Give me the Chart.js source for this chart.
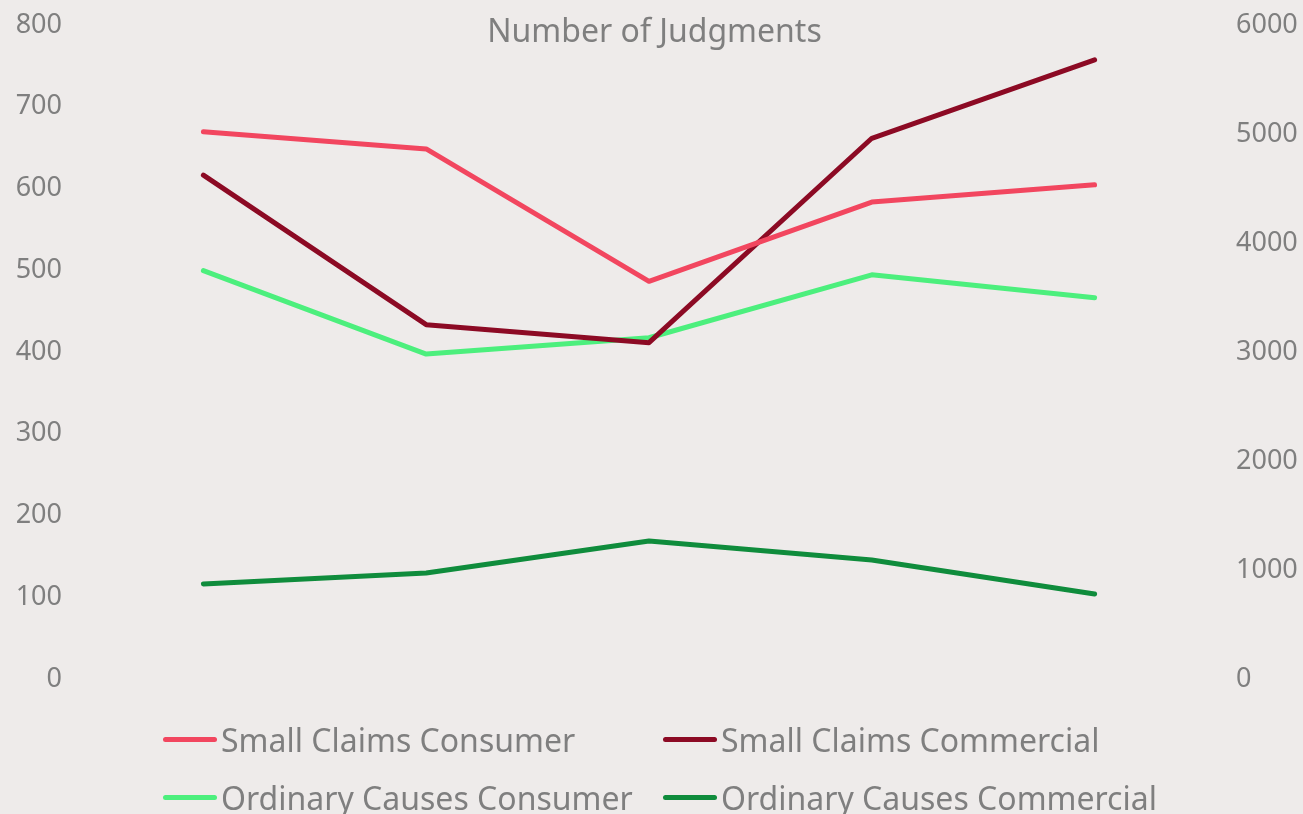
<!DOCTYPE html>
<html>
<head>
<meta charset="utf-8">
<script src="https://cdn.jsdelivr.net/npm/chart.js@4.4.0/dist/chart.umd.min.js"></script>
<style>
  html, body { margin: 0; padding: 0; background: #EEEBEA; }
  #wrap { position: relative; width: 1303px; height: 814px; overflow: hidden; background: #EEEBEA; font-family: "Noto Sans", "Open Sans", sans-serif; color: #7F7F7F; }
  #c { position: absolute; left: 0; top: 0; }
  #title { position: absolute; left: 3px; width: 1303px; top: 9px; text-align: center; font-size: 32px; line-height: 42px; color: #7F7F7F; }
  #legend { position: absolute; left: 0; top: 0; width: 1303px; height: 814px; pointer-events: none; }
  .item { position: absolute; display: flex; align-items: center; height: 44px; white-space: nowrap; font-size: 32px; color: #7F7F7F; }
  .swatch { width: 54px; height: 5px; border-radius: 3px; margin-right: 4px; }
</style>
</head>
<body>
<div id="wrap">
  <canvas id="c" width="1303" height="814"></canvas>
  <div id="title">Number of Judgments</div>
  <div id="legend"></div>
</div>
<script>
const categories = ['Period 1', 'Period 2', 'Period 3', 'Period 4', 'Period 5'];
const smallClaimsConsumer = [667, 646, 484, 581, 602];
const smallClaimsCommercial = [614, 431, 409, 659, 755];
const ordinaryCausesConsumer = [497, 395, 415, 492, 464];
const ordinaryCausesCommercial = [854, 954, 1248, 1073, 761];
const leftTicks = [0, 100, 200, 300, 400, 500, 600, 700, 800];
const rightTicks = [0, 1000, 2000, 3000, 4000, 5000, 6000];

const gray = '#7F7F7F';
const fontFamily = '"Noto Sans", "Open Sans", sans-serif';

const datasets = [
  { label: 'Small Claims Consumer', data: smallClaimsConsumer, borderColor: '#F2465F', yAxisID: 'y' },
  { label: 'Small Claims Commercial', data: smallClaimsCommercial, borderColor: '#8C0A24', yAxisID: 'y' },
  { label: 'Ordinary Causes Consumer', data: ordinaryCausesConsumer, borderColor: '#4CEF7D', yAxisID: 'y' },
  { label: 'Ordinary Causes Commercial', data: ordinaryCausesCommercial, borderColor: '#0F8C3C', yAxisID: 'y1' }
].map(d => Object.assign(d, {
  backgroundColor: d.borderColor,
  borderWidth: 5,
  borderCapStyle: 'round',
  borderJoinStyle: 'round',
  pointRadius: 0,
  pointHoverRadius: 0,
  tension: 0,
  fill: false
}));

const plainNumber = v => String(v);
const fitAxis = w => s => { s.width = w; s.paddingTop = 0; s.paddingBottom = 0; };

const chart = new Chart(document.getElementById('c'), {
  type: 'line',
  data: { labels: categories, datasets: datasets },
  options: {
    responsive: false,
    animation: false,
    layout: { padding: { top: 23, bottom: 137, left: 0, right: 0 } },
    plugins: { legend: { display: false }, title: { display: false }, tooltip: { enabled: false } },
    scales: {
      x: { display: false, offset: true },
      y: {
        position: 'left', min: leftTicks[0], max: leftTicks[leftTicks.length - 1],
        afterBuildTicks: s => { s.ticks = leftTicks.map(v => ({ value: v })); },
        afterFit: fitAxis(92),
        grid: { display: false }, border: { display: false },
        ticks: { color: gray, padding: 22, labelOffset: 2, font: { family: fontFamily, size: 27 }, callback: plainNumber }
      },
      y1: {
        position: 'right', min: rightTicks[0], max: rightTicks[rightTicks.length - 1],
        afterBuildTicks: s => { s.ticks = rightTicks.map(v => ({ value: v })); },
        afterFit: fitAxis(97),
        grid: { display: false }, border: { display: false },
        ticks: { color: gray, padding: 22, labelOffset: 2, font: { family: fontFamily, size: 27 }, callback: plainNumber }
      }
    }
  }
});

// Grid-style legend (two columns, two rows) built from the datasets
const legendEl = document.getElementById('legend');
const colX = [163, 663];
const rowY = [717, 775];
chart.data.datasets.forEach((ds, i) => {
  const item = document.createElement('div');
  item.className = 'item';
  item.style.left = colX[i % 2] + 'px';
  item.style.top = rowY[Math.floor(i / 2)] + 'px';
  const sw = document.createElement('span');
  sw.className = 'swatch';
  sw.style.background = ds.borderColor;
  const tx = document.createElement('span');
  tx.textContent = ds.label;
  item.appendChild(sw);
  item.appendChild(tx);
  legendEl.appendChild(item);
});
</script>
</body>
</html>
